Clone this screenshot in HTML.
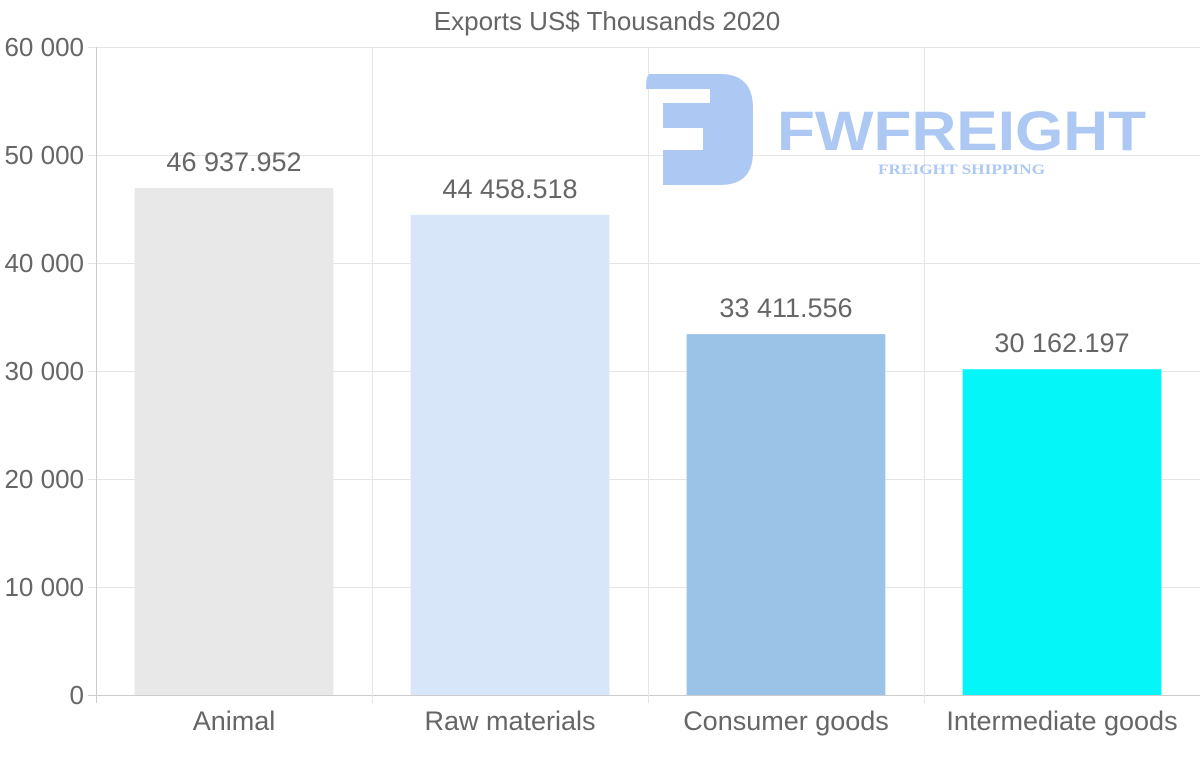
<!DOCTYPE html>
<html><head><meta charset="utf-8"><style>
html,body{margin:0;padding:0;background:#fff;}
svg{display:block;font-family:"Liberation Sans",Arial,sans-serif;}
</style></head><body>
<svg id="chart" width="1200" height="763" viewBox="0 0 1200 763">
<text x="607" y="30" text-anchor="middle" font-size="26" fill="#666">Exports US$ Thousands 2020</text>
<g id="grid"></g>
<g id="logo">
  <path fill-rule="evenodd" d="M650 74 L720 74 Q753 74 753 108 L753 152 Q753 185 720 185 L663 185 L663 89 L646 89 Q646 74 650 74 Z M663 89 L710 89 L710 103 L663 103 Z M663 128 L703 128 L703 150 L663 150 Z" fill="#adc8f3"/>
  <text x="777" y="150" font-size="56" font-weight="bold" fill="#adc8f3" textLength="369" lengthAdjust="spacingAndGlyphs">FWFREIGHT</text>
  <text x="878" y="174" font-size="15" font-weight="bold" fill="#adc8f3" font-family="Liberation Serif,serif" textLength="167" lengthAdjust="spacingAndGlyphs">FREIGHT SHIPPING</text>
</g>
<g id="bars"></g>
</svg>
<script>
const categories = ["Animal","Raw materials","Consumer goods","Intermediate goods"];
const values = [46937.952, 44458.518, 33411.556, 30162.197];
const valueLabels = ["46 937.952","44 458.518","33 411.556","30 162.197"];
const colors = ["#e8e8e8","#d7e7f9","#9bc3e8","#05f6f8"];
const yTicks = [0,10000,20000,30000,40000,50000,60000];
const yTickLabels = ["0","10 000","20 000","30 000","40 000","50 000","60 000"];

const NS="http://www.w3.org/2000/svg";
const L=96,R=1200,T=47,B=695,yMax=60000;
const y=v=>B-(v/yMax)*(B-T);
const bw=(R-L)/categories.length;
const x=i=>L+bw*i;
const grid=document.getElementById('grid'), bars=document.getElementById('bars');
function mk(tag,attrs,parent){const e=document.createElementNS(NS,tag);for(const k in attrs)e.setAttribute(k,attrs[k]);parent.appendChild(e);return e;}
yTicks.forEach((t,i)=>{
  const l=mk('line',{x1:88,x2:R,y1:y(t)+0.5,y2:y(t)+0.5,stroke:i===0?'#ccc':'#e5e5e5','stroke-width':1},grid);
  
  
  const tx=mk('text',{x:84,y:y(t)+9,'text-anchor':'end','font-size':26,fill:'#666'},grid);
  tx.textContent=yTickLabels[i];
  
  
});
for(let i=0;i<=categories.length;i++){
  const l=mk('line',{x1:x(i)+0.5,x2:x(i)+0.5,y1:T,y2:B+8,stroke:i===0?'#ccc':'#e5e5e5','stroke-width':1},grid);
  
  
}
categories.forEach((c,i)=>{
  const cx=x(i)+bw/2, w=bw*0.72;
  const r=mk('rect',{x:cx-w/2,y:y(values[i]),width:w,height:B-y(values[i]),fill:colors[i]},bars);
  
  
  const v=mk('text',{x:cx,y:y(values[i])-17,'text-anchor':'middle','font-size':27,fill:'#666'},bars);
  v.textContent=valueLabels[i];
  
  
  const t=mk('text',{x:cx,y:730,'text-anchor':'middle','font-size':27,fill:'#666'},bars);
  t.textContent=c;
  
  
});
</script>
</body></html>
